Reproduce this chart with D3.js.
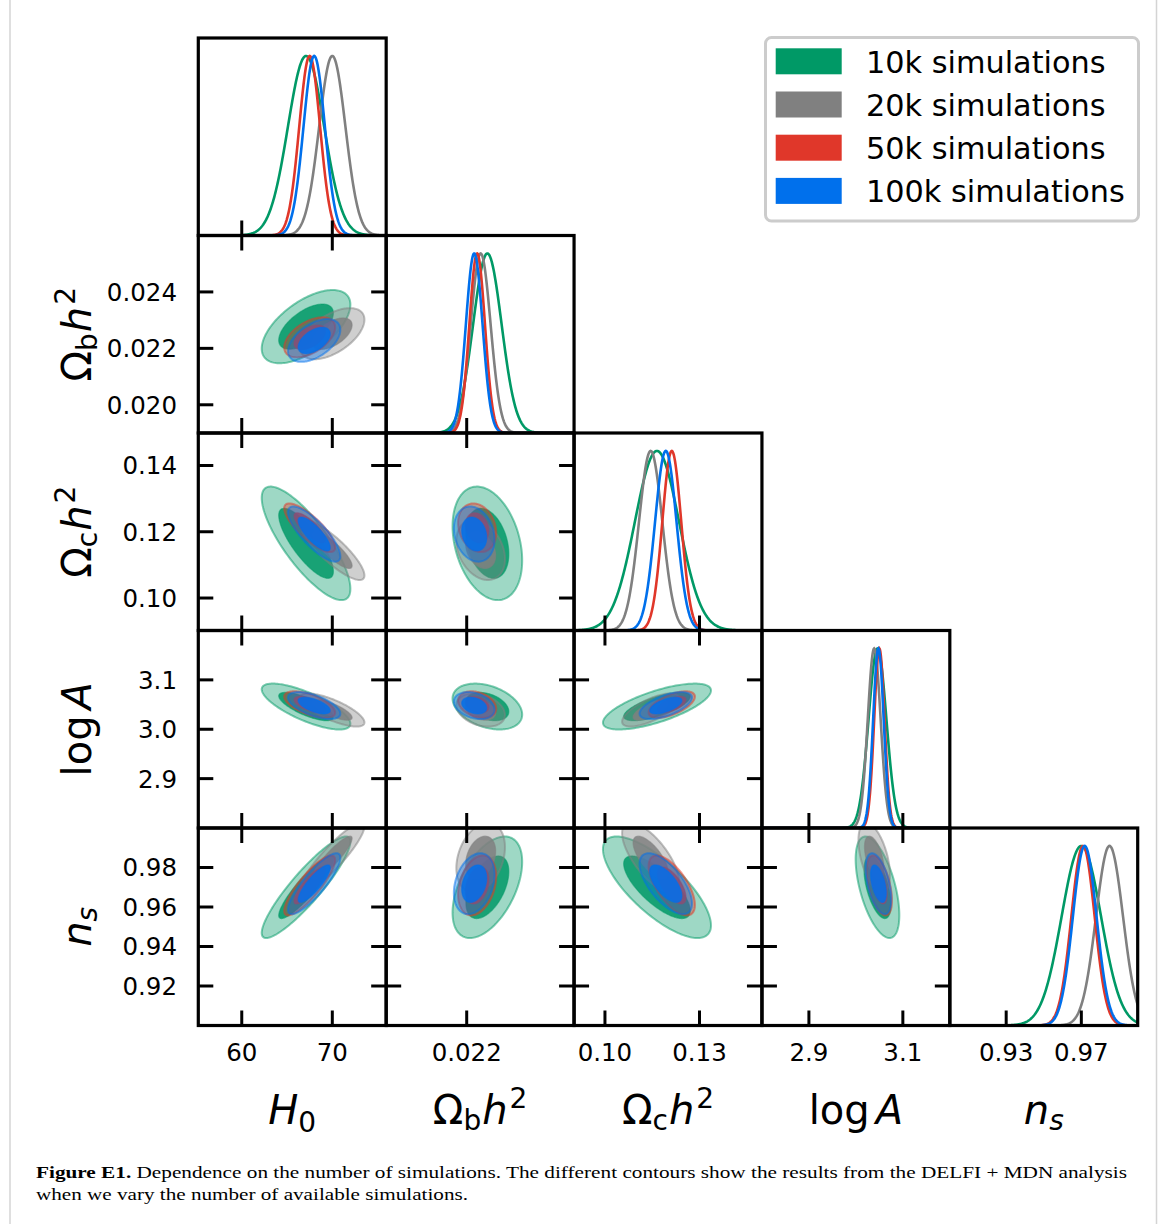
<!DOCTYPE html>
<html><head><meta charset="utf-8">
<script src="https://cdn.jsdelivr.net/npm/d3@7"></script>
<style>
body{margin:0;background:#fff}
text{font-family:"DejaVu Sans",sans-serif;fill:#000}
</style>
</head><body>
<svg id="chart" width="1166" height="1224"></svg>
<script>
// ---------------- data ----------------
const paramNames = ["H0", "Obh2", "Och2", "logA", "ns"];
const seriesLabels = ["10k simulations", "20k simulations", "50k simulations", "100k simulations"];
const seriesColors = ["#009966", "#808080", "#e0372a", "#0070ec"];

// posterior means  [H0, Ωbh², Ωch², logA, ns]
const mean10k  = [67.1, 0.02277, 0.1165, 3.046, 0.9700];
const mean20k  = [70.0, 0.02252, 0.1145, 3.039, 0.9850];
const mean50k  = [67.5, 0.02239, 0.1212, 3.050, 0.9709];
const mean100k = [68.0, 0.02228, 0.1193, 3.048, 0.9718];
// posterior standard deviations
const sigma10k  = [2.0, 0.00053, 0.0070, 0.0190, 0.0105];
const sigma20k  = [1.45, 0.00037, 0.0037, 0.0137, 0.0072];
const sigma50k  = [1.15, 0.00029, 0.0030, 0.0110, 0.0062];
const sigma100k = [1.18, 0.00031, 0.0034, 0.0112, 0.0063];
// correlations for pairs (0,1),(0,2),(0,3),(0,4),(1,2),(1,3),(1,4),(2,3),(2,4),(3,4)
const corr10k  = [0.60, -0.80, -0.75, 0.90, -0.30, -0.35, 0.50, 0.70, -0.75, -0.55];
const corr20k  = [0.55, -0.85, -0.75, 0.90, -0.30, -0.30, 0.30, 0.70, -0.70, -0.50];
const corr50k  = [0.50, -0.80, -0.60, 0.85, -0.20, -0.30, 0.30, 0.60, -0.65, -0.50];
const corr100k = [0.50, -0.80, -0.60, 0.85, -0.20, -0.30, 0.30, 0.60, -0.65, -0.50];

const axisDomains = [[55.2, 75.95], [0.019, 0.026], [0.0902, 0.1498], [2.8, 3.2], [0.9, 1.0]];
const xTickValues = [[60, 70], [0.022], [0.10, 0.13], [2.9, 3.1], [0.93, 0.97]];
const xTickLabels = [["60", "70"], ["0.022"], ["0.10", "0.13"], ["2.9", "3.1"], ["0.93", "0.97"]];
const yTickValues = [[], [0.020, 0.022, 0.024], [0.10, 0.12, 0.14], [2.9, 3.0, 3.1], [0.92, 0.94, 0.96, 0.98]];
const yTickLabels = [[], ["0.020", "0.022", "0.024"], ["0.10", "0.12", "0.14"], ["2.9", "3.0", "3.1"], ["0.92", "0.94", "0.96", "0.98"]];
const contourLevels = [0.95, 0.68];
const captionLine1Bold = "Figure E1.";
const captionLine1 = " Dependence on the number of simulations. The different contours show the results from the DELFI + MDN analysis";
const captionLine2 = "when we vary the number of available simulations.";

// ---------------- layout ----------------
const means = [mean10k, mean20k, mean50k, mean100k];
const sigmas = [sigma10k, sigma20k, sigma50k, sigma100k];
const corrs = [corr10k, corr20k, corr50k, corr100k];
const N = paramNames.length;
const gridL = 198.3, gridT = 38, cellW = 187.88, cellH = 197.5;
const svg = d3.select("#chart");

const xs = axisDomains.map((d, i) => d3.scaleLinear().domain(d).range([gridL + i * cellW, gridL + (i + 1) * cellW]));
const ys = axisDomains.map((d, i) => d3.scaleLinear().domain(d).range([gridT + (i + 1) * cellH, gridT + i * cellH]));

function pairIndex(a, b) {
  let k = 0;
  for (let i = 0; i < N; i++) for (let j = i + 1; j < N; j++) { if (i === a && j === b) return k; k++; }
  return -1;
}

// frame lines around figure
svg.append("line").attr("x1", 10).attr("x2", 10).attr("y1", 0).attr("y2", 1224).attr("stroke", "#d4d4d4").attr("stroke-width", 1.5);
svg.append("line").attr("x1", 1156.5).attr("x2", 1156.5).attr("y1", 0).attr("y2", 1224).attr("stroke", "#d4d4d4").attr("stroke-width", 1.5);

const defs = svg.append("defs");
const lineGen = d3.line();

for (let r = 0; r < N; r++) {
  for (let c = 0; c <= r; c++) {
    const x0 = gridL + c * cellW, y0 = gridT + r * cellH;
    const id = `clip-${r}-${c}`;
    defs.append("clipPath").attr("id", id).append("rect").attr("x", x0).attr("y", y0).attr("width", cellW).attr("height", cellH);
    const g = svg.append("g").attr("clip-path", `url(#${id})`);
    if (r === c) {
      const xsc = xs[c];
      const ysc = d3.scaleLinear().domain([0, 1.1]).range([y0 + cellH, y0]);
      for (let s = 0; s < means.length; s++) {
        const m = means[s][c], sd = sigmas[s][c];
        const pts = d3.range(0, 401).map(k => {
          const v = axisDomains[c][0] + (axisDomains[c][1] - axisDomains[c][0]) * k / 400;
          const z = (v - m) / sd;
          return [xsc(v), ysc(Math.exp(-0.5 * z * z))];
        });
        g.append("path").attr("d", lineGen(pts)).attr("fill", "none")
          .attr("stroke", seriesColors[s]).attr("stroke-width", 2.6);
      }
    } else {
      const xsc = xs[c], ysc = ys[r];
      const pi = pairIndex(c, r);
      for (let s = 0; s < means.length; s++) {
        const mx = means[s][c], my = means[s][r], sx = sigmas[s][c], sy = sigmas[s][r], rho = corrs[s][pi];
        contourLevels.forEach((lev, li) => {
          const rad = Math.sqrt(-2 * Math.log(1 - lev));
          const pts = d3.range(0, 160).map(k => {
            const t = 2 * Math.PI * k / 160;
            const vx = mx + rad * sx * Math.cos(t);
            const vy = my + rad * sy * (rho * Math.cos(t) + Math.sqrt(1 - rho * rho) * Math.sin(t));
            return [xsc(vx), ysc(vy)];
          });
          g.append("path").attr("d", d3.line().curve(d3.curveLinearClosed)(pts))
            .attr("fill", seriesColors[s]).attr("fill-opacity", li === 0 ? 0.38 : 0.85)
            .attr("stroke", seriesColors[s]).attr("stroke-opacity", 0.5)
            .attr("stroke-width", li === 0 ? 2 : 1.2);
        });
      }
    }
  }
}

// ticks & spines
const tickLen = 15, tickW = 3;
const axG = svg.append("g").attr("stroke", "#000").attr("stroke-width", tickW);
for (let r = 0; r < N; r++) {
  for (let c = 0; c <= r; c++) {
    const x0 = gridL + c * cellW, y0 = gridT + r * cellH, x1 = x0 + cellW, y1 = y0 + cellH;
    xTickValues[c].forEach(v => {
      const x = xs[c](v);
      axG.append("line").attr("x1", x).attr("x2", x).attr("y1", y1).attr("y2", y1 - tickLen);
      if (r !== c) axG.append("line").attr("x1", x).attr("x2", x).attr("y1", y0).attr("y2", y0 + tickLen);
    });
    if (r !== c) {
      yTickValues[r].forEach(v => {
        const y = ys[r](v);
        axG.append("line").attr("x1", x0).attr("x2", x0 + tickLen).attr("y1", y).attr("y2", y);
        axG.append("line").attr("x1", x1).attr("x2", x1 - tickLen).attr("y1", y).attr("y2", y);
      });
    }
  }
}
const spG = svg.append("g").attr("fill", "none").attr("stroke", "#000").attr("stroke-width", 3.2);
for (let r = 0; r < N; r++) {
  for (let c = 0; c <= r; c++) {
    spG.append("rect").attr("x", gridL + c * cellW).attr("y", gridT + r * cellH).attr("width", cellW).attr("height", cellH);
  }
}

// tick labels
const tickFont = 24.5;
for (let c = 0; c < N; c++) {
  xTickValues[c].forEach((v, k) => {
    svg.append("text").attr("x", xs[c](v)).attr("y", 1061)
      .attr("text-anchor", "middle").style("font-size", tickFont + "px").text(xTickLabels[c][k]);
  });
}
for (let r = 1; r < N; r++) {
  yTickValues[r].forEach((v, k) => {
    svg.append("text").attr("x", 177).attr("y", ys[r](v) + 0.3645 * tickFont)
      .attr("text-anchor", "end").style("font-size", tickFont + "px").text(yTickLabels[r][k]);
  });
}

// axis labels (mathtext-like)
const labFont = 40;
function buildLabel(t, idx) {
  const sub = labFont * 0.7;
  if (idx === 0) {
    t.append("tspan").style("font-style", "italic").text("H");
    t.append("tspan").style("font-size", sub + "px").attr("dy", 8).text("0");
  } else if (idx === 1 || idx === 2) {
    t.append("tspan").text("Ω");
    t.append("tspan").style("font-size", sub + "px").attr("dy", 6).text(idx === 1 ? "b" : "c");
    t.append("tspan").style("font-style", "italic").attr("dy", -6).attr("dx", 1).text("h");
    t.append("tspan").style("font-size", sub + "px").attr("dy", -16).attr("dx", 2).text("2");
  } else if (idx === 3) {
    t.append("tspan").text("log");
    t.append("tspan").style("font-style", "italic").attr("dx", 6).text("A");
  } else {
    t.append("tspan").style("font-style", "italic").text("n");
    t.append("tspan").style("font-style", "italic").style("font-size", sub + "px").attr("dy", 6).text("s");
  }
}
for (let c = 0; c < N; c++) {
  const t = svg.append("text").attr("transform", `translate(${gridL + (c + 0.5) * cellW},1124)`)
    .attr("text-anchor", "middle").style("font-size", labFont + "px");
  buildLabel(t, c);
}
for (let r = 1; r < N; r++) {
  const t = svg.append("text").attr("transform", `translate(91,${gridT + (r + 0.5) * cellH}) rotate(-90)`)
    .attr("text-anchor", "middle").style("font-size", labFont + "px");
  buildLabel(t, r);
}

// legend
const leg = svg.append("g");
leg.append("rect").attr("x", 765.5).attr("y", 37.5).attr("width", 373).attr("height", 183.5).attr("rx", 6)
  .attr("fill", "#fff").attr("stroke", "#cccccc").attr("stroke-width", 3);
seriesLabels.forEach((lab, i) => {
  const yTop = 48.3 + i * 43.2;
  leg.append("rect").attr("x", 775.7).attr("y", yTop).attr("width", 66).attr("height", 26).attr("fill", seriesColors[i]);
  leg.append("text").attr("x", 866).attr("y", yTop + 24.5)
    .style("font-size", "30.3px").text(lab);
});

// caption
const cap1 = svg.append("text").attr("x", 36).attr("y", 1178).attr("textLength", 1091).attr("lengthAdjust", "spacingAndGlyphs")
  .style("font-family", "'Liberation Serif',serif").style("font-size", "17.5px");
cap1.append("tspan").style("font-weight", "bold").text(captionLine1Bold);
cap1.append("tspan").text(captionLine1);
svg.append("text").attr("x", 36).attr("y", 1200).attr("textLength", 432).attr("lengthAdjust", "spacingAndGlyphs")
  .style("font-family", "'Liberation Serif',serif").style("font-size", "17.5px").text(captionLine2);
</script>
</body></html>
